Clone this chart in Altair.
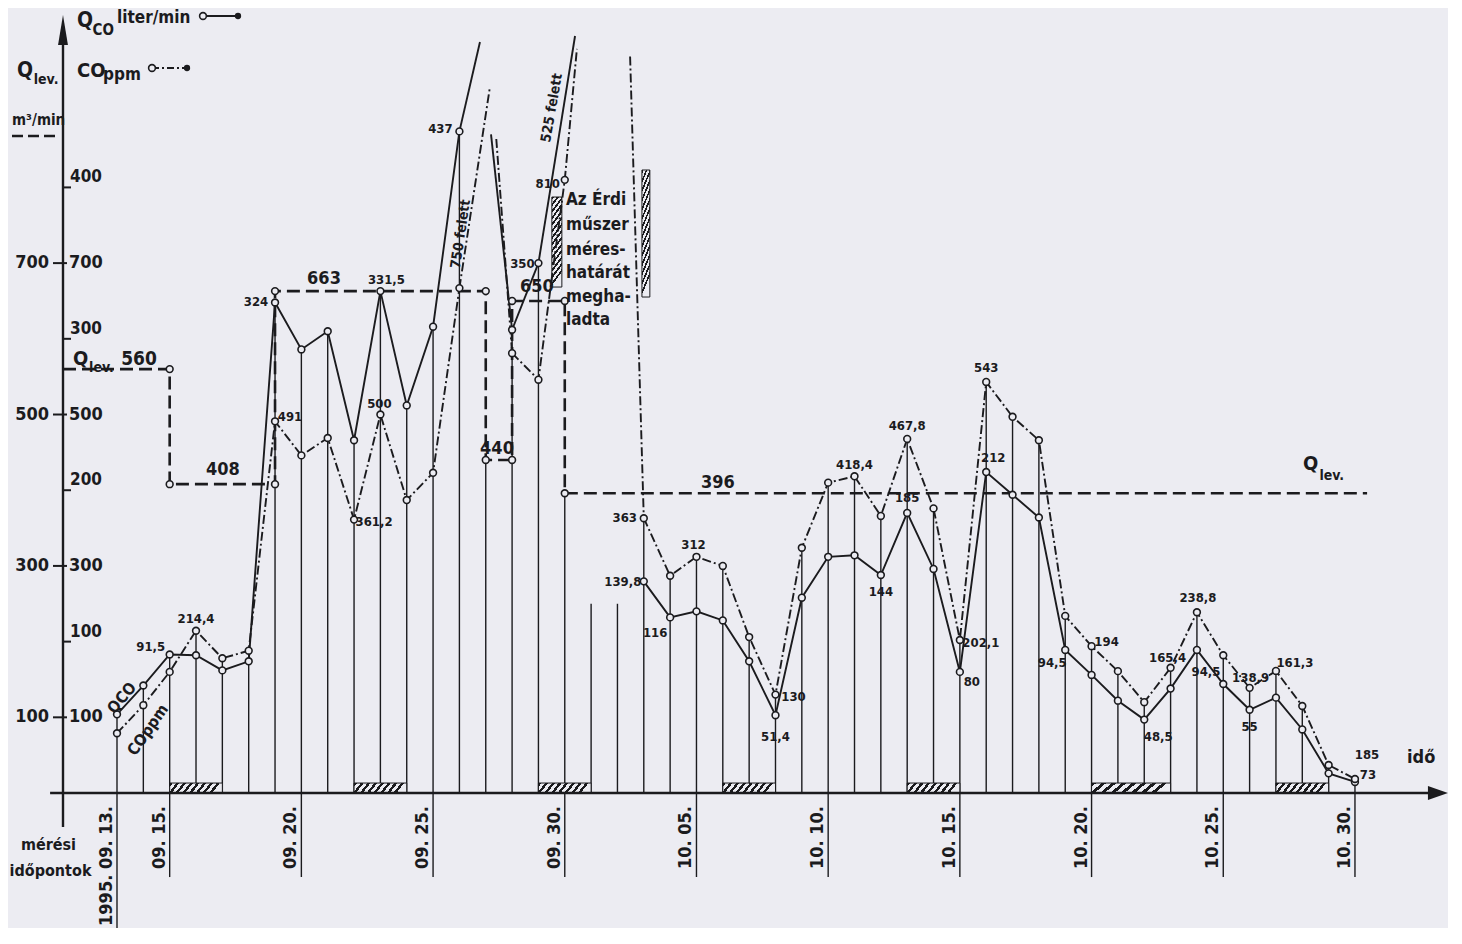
import altair as alt
import pandas as pd

BG = "#ececf2"
INK = "#1b1b1e"
FONT = "DejaVu Sans Condensed, DejaVu Sans, sans-serif"

# ---------------- data ----------------
# day index: 0 = 1995.09.13.
qco_days = list(range(0, 14)) + [15, 16] + list(range(20, 48))
qco_vals = [52, 71, 91.5, 91, 81, 87, 324, 293, 305, 233, 331.5, 256, 308, 437,
            306, 350,
            139.8, 116, 120, 114, 87, 51.4, 129, 156, 157, 144, 185, 148, 80, 212,
            197, 182, 94.5, 78, 61, 48.5, 69, 94.5, 72, 55, 63, 42, 13, 7.3]

ppm_days = list(range(0, 14)) + [15, 16, 17] + list(range(20, 48))
ppm_vals = [79, 116, 160, 214.4, 178, 188, 491, 446, 469, 361.2, 500, 387, 423, 667,
            581, 546, 810,
            363, 287, 312, 300, 206, 130, 324, 410, 418.4, 366, 467.8, 376, 202.1,
            543, 497, 466, 234, 194, 161, 120, 165.4, 238.8, 182, 138.9, 161.3, 115, 37, 18.5]

# line pieces running off the top of the chart (over the instrument's range)
qco_stub_days = [[13, 13.78], [14.2, 15], [16, 17.39]]
qco_stub_vals = [[437, 496], [435, 306], [350, 500]]
ppm_stub_days = [[13, 14.16], [14.4, 15], [17, 17.46], [19.48, 20]]
ppm_stub_vals = [[667, 933], [864, 581], [810, 983], [973, 363]]

# Q_lev (m3/min) step line
qlev_days = [-2.05, 2, 6, 14, 15, 17, 47.46]
qlev_vals = [560, 408, 663, 440, 650, 396, 396]

# weekend hatches under the axis
hatch_start = [2, 9, 16, 23, 30, 37, 44]
hatch_end = [4, 11, 18, 25, 32, 40, 46]

# date ticks
tick_days = [0, 2, 7, 12, 17, 22, 27, 32, 37, 42, 47]
tick_labels = ["1995. 09. 13.", "09. 15.", "09. 20.", "09. 25.", "09. 30.", "10. 05.",
               "10. 10.", "10. 15.", "10. 20.", "10. 25.", "10. 30."]

main_ticks = [100, 300, 500, 700]
qco_ticks = [100, 200, 300, 400]

# drop-line heights that are not simply the upper data point
drop_override = {14: 440, 17: 396, 18: 250, 19: 250}

# value labels: series, day, text, dx, dy (pixel offsets)
value_labels = [
    ("q", 2, "91,5", -19, -7), ("p", 3, "214,4", 0, -12), ("q", 6, "324", -19, 0),
    ("p", 6, "491", 15, -4), ("q", 10, "331,5", 6, -11), ("p", 10, "500", -1, -11),
    ("p", 9, "361,2", 20, 2), ("q", 13, "437", -19, -2), ("p", 17, "810", -17, 4),
    ("q", 16, "350", -16, 1), ("p", 20, "363", -19, 0), ("q", 20, "139,8", -21, 1),
    ("q", 21, "116", -15, 16), ("p", 22, "312", -3, -12), ("p", 25, "130", 18, 2),
    ("q", 25, "51,4", 0, 22), ("p", 28, "418,4", 0, -11), ("q", 29, "144", 0, 17),
    ("p", 30, "467,8", 0, -13), ("q", 30, "185", 0, -15), ("p", 32, "202,1", 21, 3),
    ("q", 32, "80", 12, 10), ("p", 33, "543", 0, -14), ("q", 33, "212", 7, -14),
    ("q", 36, "94,5", -13, 13), ("p", 37, "194", 15, -4), ("q", 39, "48,5", 14, 17),
    ("p", 40, "165,4", -3, -10), ("p", 41, "238,8", 1, -14), ("q", 41, "94,5", 9, 22),
    ("p", 43, "138,9", 1, -10), ("q", 43, "55", 0, 17), ("p", 44, "161,3", 19, -8),
    ("p", 47, "185", 12, -24), ("q", 47, "73", 13, -7),
]

# ---------------- layout ----------------
XDOM = [-4.138, 50.532]
YDOM = [-178.3, 1037.0]
PXD = 26.34
PXV = 0.757
AXIS_X = -2.05


def X(f="x"):
    return alt.X(f"{f}:Q", scale=alt.Scale(domain=XDOM, nice=False, zero=False), axis=None)


def Y(f="y"):
    return alt.Y(f"{f}:Q", scale=alt.Scale(domain=YDOM, nice=False, zero=False), axis=None)


def T(rows, size, align="left", baseline="alphabetic", angle=0, weight="bold", dy=0):
    df = pd.DataFrame(rows, columns=["x", "y", "t"])
    return alt.Chart(df).mark_text(font=FONT, fontSize=size, fontWeight=weight, align=align,
                                   baseline=baseline, angle=angle, dy=dy, color=INK).encode(
        x=X(), y=Y(), text="t:N")


def series_frame(days, vals, sdays, svals):
    rows, seg, prev = [], 0, None
    for d, v in zip(days, vals):
        if prev is not None and d - prev > 1:
            seg += 1
        rows.append(dict(x=d, v=v, seg=seg, o=d))
        prev = d
    for sd, sv in zip(sdays, svals):
        seg += 1
        for d, v in zip(sd, sv):
            rows.append(dict(x=d, v=v, seg=seg, o=d))
    return pd.DataFrame(rows)


def stripes(n, x2, y2):
    stops = []
    for i in range(n):
        a, b, c = i / n, (i + 0.45) / n, (i + 1) / n
        stops += [alt.GradientStop(offset=a, color=INK), alt.GradientStop(offset=b, color=INK),
                  alt.GradientStop(offset=b, color=BG), alt.GradientStop(offset=c, color=BG)]
    return alt.LinearGradient(gradient="linear", stops=stops, x1=0, y1=0, x2=x2, y2=y2)


layers = []

# drop lines
pmap = dict(zip(ppm_days, ppm_vals))
qmap = dict(zip(qco_days, qco_vals))
drows = []
for d in range(0, 48):
    if d in drop_override:
        top = drop_override[d]
    else:
        top = max(pmap.get(d, 0), 2 * qmap.get(d, 0))
    bottom = 0
    if d in tick_days:
        bottom = YDOM[0] if d == 0 else -111
    drows.append(dict(x=d, y=bottom, y2=top))
layers.append(alt.Chart(pd.DataFrame(drows)).mark_rule(color=INK, strokeWidth=1.4).encode(
    x=X(), y=Y(), y2="y2:Q"))

# weekend hatches
hdf = pd.DataFrame({"x": hatch_start, "x2": hatch_end, "y": [0] * 7, "y2": [13.2] * 7})
layers.append(alt.Chart(hdf).mark_rect(fill=stripes(8, 1, 0.15), stroke=INK, strokeWidth=1).encode(
    x=X(), x2="x2:Q", y=Y(), y2="y2:Q"))

# hatched strips beside the 'instrument limit' note
sdf = pd.DataFrame({"x": [16.51, 19.93], "x2": [16.89, 20.23], "y": [668.4, 655.2], "y2": [787.3, 823.0]})
layers.append(alt.Chart(sdf).mark_rect(fill=stripes(14, 0.15, 1), stroke=INK, strokeWidth=1).encode(
    x=X(), x2="x2:Q", y=Y(), y2="y2:Q"))

# axes
layers.append(alt.Chart(pd.DataFrame({"x": [-2.54], "x2": [50.1], "y": [0]})).mark_rule(
    color=INK, strokeWidth=2.6).encode(x=X(), x2="x2:Q", y=Y()))
layers.append(alt.Chart(pd.DataFrame({"x": [AXIS_X], "y": [-45], "y2": [1000]})).mark_rule(
    color=INK, strokeWidth=2.4).encode(x=X(), y=Y(), y2="y2:Q"))
layers.append(alt.Chart(pd.DataFrame({"x": [50.15], "y": [0]})).mark_point(
    shape="M-1,-0.7L1,0L-1,0.7Z", filled=True, color=INK, opacity=1, size=400).encode(x=X(), y=Y()))
layers.append(alt.Chart(pd.DataFrame({"x": [AXIS_X], "y": [1007.9]})).mark_point(
    shape="M0,-1L0.33,1L-0.33,1Z", filled=True, color=INK, opacity=1, size=900).encode(x=X(), y=Y()))
mt = pd.DataFrame({"x": [-2.43] * 4, "x2": [-1.898] * 4, "y": main_ticks})
layers.append(alt.Chart(mt).mark_rule(color=INK, strokeWidth=2).encode(x=X(), x2="x2:Q", y=Y()))
qt = pd.DataFrame({"x": [AXIS_X] * 4, "x2": [-1.746] * 4, "t": qco_ticks})
layers.append(alt.Chart(qt).transform_calculate(y="datum.t * 2").mark_rule(color=INK, strokeWidth=2).encode(
    x=X(), x2="x2:Q", y=Y()))
layers.append(T([(-2.582, t, str(t)) for t in main_ticks], 18, align="right", baseline="middle"))
layers.append(T([(-1.822, t, str(t)) for t in main_ticks], 18, align="left", baseline="middle"))
layers.append(T([(-1.784, 2 * t, str(t)) for t in qco_ticks], 17, align="left", baseline="middle", dy=-10))

# date labels
layers.append(T([(d, -17.2, lab) for d, lab in zip(tick_days, tick_labels)], 18, align="right",
                baseline="bottom", angle=270, dy=-1))

# Q_lev step line + corner circles
qldf = pd.DataFrame({"x": qlev_days, "y": qlev_vals})
layers.append(alt.Chart(qldf).mark_line(interpolate="step-after", strokeDash=[13, 6], strokeWidth=2.6,
                                        color=INK).encode(x=X(), y=Y()))
corners = []
for i in range(1, len(qlev_days) - 1):
    corners.append(dict(x=qlev_days[i], y=qlev_vals[i - 1]))
    corners.append(dict(x=qlev_days[i], y=qlev_vals[i]))

# series lines
qdf = series_frame(qco_days, qco_vals, qco_stub_days, qco_stub_vals)
pdf = series_frame(ppm_days, ppm_vals, ppm_stub_days, ppm_stub_vals)
layers.append(alt.Chart(qdf).transform_calculate(y="datum.v * 2").mark_line(
    color=INK, strokeWidth=1.9).encode(x=X(), y=Y(), detail="seg:N", order="o:Q"))
layers.append(alt.Chart(pdf).transform_calculate(y="datum.v").mark_line(
    color=INK, strokeWidth=1.9, strokeDash=[9, 3, 2, 3]).encode(x=X(), y=Y(), detail="seg:N", order="o:Q"))

# circles
ptkw = dict(shape="circle", filled=True, fill=BG, stroke=INK, strokeWidth=1.6, size=46, opacity=1)
layers.append(alt.Chart(pd.DataFrame(corners)).mark_point(**ptkw).encode(x=X(), y=Y()))
layers.append(alt.Chart(pd.DataFrame({"x": qco_days, "v": qco_vals})).transform_calculate(
    y="datum.v * 2").mark_point(**ptkw).encode(x=X(), y=Y()))
layers.append(alt.Chart(pd.DataFrame({"x": ppm_days, "y": ppm_vals})).mark_point(**ptkw).encode(x=X(), y=Y()))

# value labels
vrows = []
for s, d, t, dx, dy in value_labels:
    v = 2 * qmap[d] if s == "q" else pmap[d]
    vrows.append((d + dx / PXD, v - dy / PXV, t))
layers.append(T(vrows, 13, align="center", baseline="middle"))

# Q_lev labels
layers.append(T([(4.024, 426.7, "408"), (7.859, 679.0, "663"), (14.427, 454.4, "440"),
                 (15.945, 668.4, "650"), (22.817, 409.5, "396")], 18, align="center", baseline="middle"))
layers.append(T([(-1.670, 565.4, "Q"), (45.027, 426.7, "Q")], 20))
layers.append(T([(-1.06, 556.1, "lev."), (45.65, 413.5, "lev.")], 14))
layers.append(T([(0.16, 565.4, "560")], 19))

# legend (top left)
layers.append(T([(-1.519, 1011.9, "Q"), (-3.797, 945.8, "Q")], 21))
layers.append(T([(-0.93, 1001.3, "CO")], 15))
layers.append(T([(0.0, 1017.2, "liter/min"), (-0.532, 941.9, "ppm")], 17))
layers.append(T([(-1.519, 945.8, "CO")], 20))
layers.append(T([(-3.16, 936.6, "lev.")], 14))
layers.append(T([(-3.986, 882.4, "m³/min")], 15))
layers.append(alt.Chart(pd.DataFrame({"x": [3.265], "x2": [4.594], "y": [1026.4]})).mark_rule(
    color=INK, strokeWidth=1.9).encode(x=X(), x2="x2:Q", y=Y()))
layers.append(alt.Chart(pd.DataFrame({"x": [1.329], "x2": [2.658], "y": [957.7]})).mark_rule(
    color=INK, strokeWidth=1.9, strokeDash=[7, 3, 2, 3]).encode(x=X(), x2="x2:Q", y=Y()))
layers.append(alt.Chart(pd.DataFrame({"x": [-3.986], "x2": [-2.24], "y": [867.9]})).mark_rule(
    color=INK, strokeWidth=2.6, strokeDash=[11, 5]).encode(x=X(), x2="x2:Q", y=Y()))
layers.append(alt.Chart(pd.DataFrame({"x": [3.265, 1.329], "y": [1026.4, 957.7]})).mark_point(**ptkw).encode(
    x=X(), y=Y()))
layers.append(alt.Chart(pd.DataFrame({"x": [4.594, 2.658], "y": [1026.4, 957.7]})).mark_point(
    shape="circle", filled=True, color=INK, opacity=1, size=40).encode(x=X(), y=Y()))

# other annotations
layers.append(T([(48.975, 39.6, "idő")], 18))
layers.append(T([(-2.601, -75.3, "mérési"), (-2.525, -109.6, "időpontok")], 16, align="center"))
layers.append(T([(13.06, 738.4, "750 felett")], 14, align="center", baseline="middle", angle=278.5))
layers.append(T([(16.515, 904.9, "525 felett")], 14, align="center", baseline="middle", angle=280))
layers.append(T([(17.046, 776.8, "Az Érdi"), (17.046, 743.7, "műszer"), (17.046, 710.7, "méres-"),
                 (17.046, 680.3, "határát"), (17.046, 648.6, "megha-"), (17.046, 618.2, "ladta")], 17))
layers.append(T([(0.19, 125.5, "QCO")], 16, align="center", baseline="middle", angle=310))
layers.append(T([(1.177, 83.2, "COppm")], 16, align="center", baseline="middle", angle=305))

chart = alt.layer(*layers).properties(
    width=1440, height=920, padding=0, background=BG,
    autosize=alt.AutoSizeParams(type="none"),
).configure_view(stroke=None)

chart.save("out.html", embed_options={"renderer": "svg", "actions": False})
